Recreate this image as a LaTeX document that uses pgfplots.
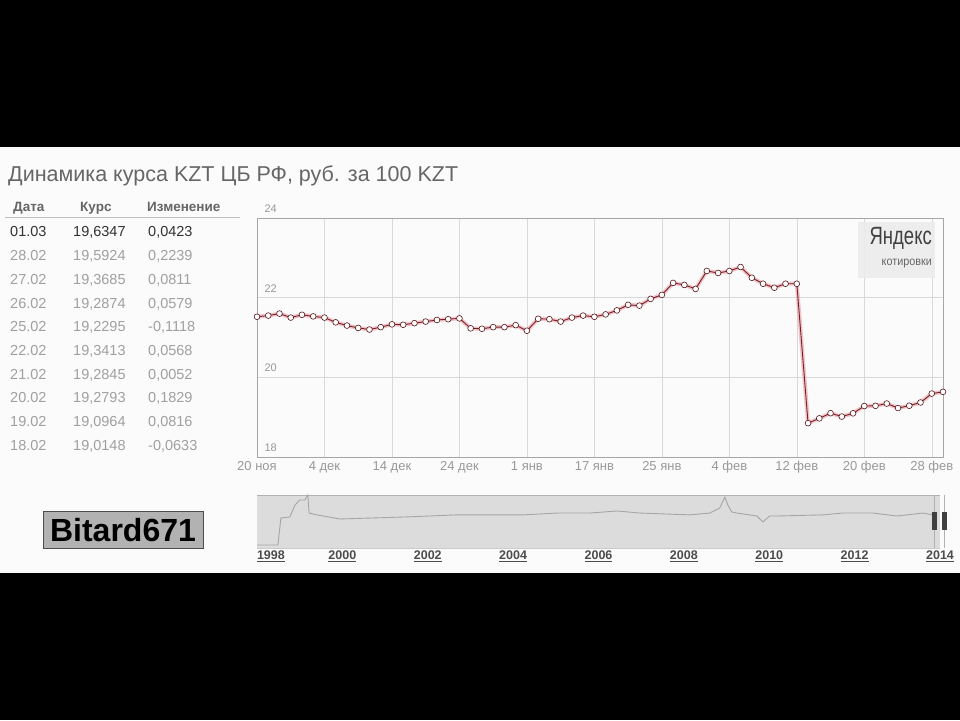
\documentclass[border=0pt]{standalone}
\usepackage{fontspec}
\setmainfont{Liberation Sans}
\usepackage{pgfplots}
\usepackage{pgfplotstable}
\pgfplotsset{compat=1.18}

\definecolor{txtgray}{HTML}{666666}
\definecolor{rowgray}{HTML}{A0A0A0}
\definecolor{linered}{HTML}{7A1E24}
\definecolor{halo}{HTML}{E8A0A8}
\definecolor{navbg}{HTML}{DCDCDC}
\definecolor{navline}{HTML}{A6A6A6}

% KZT rate, rub per 100 KZT, by trading day (0 = 20 Nov, 61 = 01.03)
\pgfplotstableread{
i v
0 21.52
1 21.55
2 21.60
3 21.50
4 21.57
5 21.53
6 21.50
7 21.38
8 21.30
9 21.24
10 21.20
11 21.26
12 21.33
13 21.32
14 21.36
15 21.40
16 21.44
17 21.46
18 21.48
19 21.23
20 21.22
21 21.26
22 21.26
23 21.31
24 21.17
25 21.47
26 21.46
27 21.40
28 21.50
29 21.55
30 21.52
31 21.58
32 21.68
33 21.82
34 21.80
35 21.97
36 22.07
37 22.37
38 22.32
39 22.22
40 22.67
41 22.62
42 22.67
43 22.77
44 22.50
45 22.35
46 22.25
47 22.35
48 22.35
49 18.85
50 18.97
51 19.10
52 19.0148
53 19.0964
54 19.2793
55 19.2845
56 19.3413
57 19.2295
58 19.2874
59 19.3685
60 19.5924
61 19.6347
}\kzt

% long history for the navigator
\pgfplotstableread{
yr v
1998.00 7.9
1998.49 7.9
1998.56 19.7
1998.77 20.2
1998.89 25.4
1999.00 27.6
1999.12 27.6
1999.19 29.8
1999.22 21.9
1999.40 21.1
1999.94 19.3
2001.51 20.2
2002.68 21.1
2004.23 21.1
2005.03 21.9
2005.80 21.9
2006.43 22.8
2006.97 21.9
2008.14 21.1
2008.61 21.9
2008.84 24.1
2008.96 28.9
2009.03 25.4
2009.12 22.4
2009.24 21.9
2009.71 20.6
2009.85 18.0
2010.01 20.6
2010.18 20.6
2011.26 21.1
2011.72 21.9
2012.43 21.9
2012.99 20.6
2013.60 21.9
2013.83 21.1
2013.93 19.6
}\hist

\begin{document}
\begin{tikzpicture}
\useasboundingbox (0pt,0pt) rectangle (960pt,720pt);
\begin{scope}[x=1pt,y=1pt]
\fill[black] (0,0) rectangle (960,720);
\fill[gray!3] (0,147) rectangle (960,573);

% title
\node[anchor=base west, inner sep=0, text=txtgray, font=\fontsize{21.5}{24}\selectfont]
  at (8,538) {Динамика курса KZT ЦБ РФ, руб. за 100 KZT};

% table
\begin{scope}[every node/.style={anchor=base west, inner sep=0, font=\fontsize{14.5}{16}\selectfont}]
\node[font=\bfseries\fontsize{13.5}{15}\selectfont, text=txtgray] at (13,508) {Дата};
\node[font=\bfseries\fontsize{13.5}{15}\selectfont, text=txtgray] at (80,508) {Курс};
\node[font=\bfseries\fontsize{13.5}{15}\selectfont, text=txtgray] at (147,508) {Изменение};
\draw[gray!50, line width=1pt] (5,502) -- (240,502);
\node[text=black!80] at (10,483) {01.03};
\node[text=black!80] at (73,483) {19,6347};
\node[text=black!80] at (148,483) {0,0423};
\foreach \d/\k/\c [count=\n] in {28.02/{19,5924}/{0,2239}, 27.02/{19,3685}/{0,0811},
   26.02/{19,2874}/{0,0579}, 25.02/{19,2295}/{-0,1118}, 22.02/{19,3413}/{0,0568},
   21.02/{19,2845}/{0,0052}, 20.02/{19,2793}/{0,1829}, 19.02/{19,0964}/{0,0816},
   18.02/{19,0148}/{-0,0633}}{
  \node[text=rowgray] at (10,483-23.7*\n) {\d};
  \node[text=rowgray] at (73,483-23.7*\n) {\k};
  \node[text=rowgray] at (148,483-23.7*\n) {\c};
}
\end{scope}

% watermark
\node[fill=gray!60, draw=gray!60!black, minimum width=160, minimum height=37, inner sep=0,
  font=\bfseries\fontsize{32}{34}\selectfont, text=black] at (123,190) {Bitard671};
\end{scope}

% main chart
\begin{axis}[
  at={(257pt,263pt)}, anchor=south west, scale only axis,
  width=686pt, height=239pt,
  xmin=0, xmax=61, ymin=18, ymax=24,
  axis line style={gray!70},
  grid=major, major grid style={gray!30},
  major tick length=0pt,
  xtick={0,6,...,60},
  xticklabels={20 ноя,4 дек,14 дек,24 дек,1 янв,17 янв,25 янв,4 фев,12 фев,20 фев,28 фев},
  ytick={18,20,22,24},
  /pgf/number format/assume math mode=true,
  xticklabel style={font=\fontsize{13}{14}\selectfont, text=gray!80, yshift=-1pt},
  yticklabel style={font=\fontsize{11}{12}\selectfont, text=gray!80, anchor=south west, xshift=4pt, yshift=2pt},
]
\addplot[halo, line width=4pt, opacity=0.6] table[x=i, y=v] {\kzt};
\addplot[linered, line width=0.9pt, mark=*, mark size=2.9pt,
  mark options={fill=white, draw=linered!70!black, line width=0.6pt}] table[x=i, y=v] {\kzt};
\fill[gray!15, opacity=0.9] (rel axis cs:0.876,0.75) rectangle (rel axis cs:0.988,0.983);
\node[anchor=north east, inner sep=0, text=black!75, font=\fontsize{25}{27}\selectfont]
  at (rel axis cs:0.984,0.96) {\scalebox{0.74}[1]{Яндекс}};
\node[anchor=north east, inner sep=0, text=black!60, font=\fontsize{12}{13}\selectfont]
  at (rel axis cs:0.984,0.83) {\scalebox{0.9}[1]{котировки}};
\end{axis}

% navigator
\begin{axis}[
  at={(257pt,172pt)}, anchor=south west, scale only axis,
  width=683pt, height=53pt,
  xmin=1998, xmax=2014, ymin=6.6, ymax=29.8,
  axis background/.style={fill=navbg},
  hide y axis, clip=false,
  axis line style={gray!60},
  major tick length=0pt,
  xtick={1998,2000,...,2014},
  xticklabels={\makebox[0pt][l]{\underline{1998}},\underline{2000},\underline{2002},\underline{2004},
    \underline{2006},\underline{2008},\underline{2010},\underline{2012},\underline{2014}},
  /pgf/number format/assume math mode=true,
  xticklabel style={font=\bfseries\fontsize{12.5}{13}\selectfont, text=black!70, yshift=1pt},
]
\addplot[navline, line width=0.9pt] table[x=yr, y=v] {\hist};
\draw[gray!60] (axis cs:2013.87,6.6) -- (axis cs:2013.87,29.8);
\draw[gray!60] (axis cs:2014.10,6.6) -- (axis cs:2014.10,29.8);
\fill[black!75] (axis cs:2013.81,14.5) rectangle (axis cs:2013.93,22.4);
\fill[black!75] (axis cs:2014.04,14.5) rectangle (axis cs:2014.16,22.4);
\end{axis}
\end{tikzpicture}
\end{document}
